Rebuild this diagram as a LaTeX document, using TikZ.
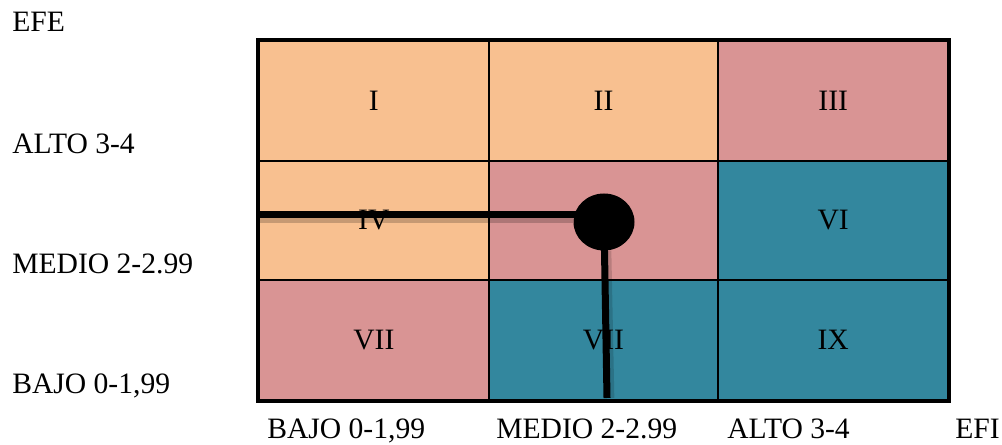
\documentclass[tikz,border=0pt]{standalone}
\usepackage{fontspec}
\setmainfont{Liberation Serif}
\usepackage{tikz}
\usetikzlibrary{shapes,positioning,calc}
\usepackage{xcolor}

\definecolor{durazno}{RGB}{248,192,144}
\definecolor{rosa}{RGB}{217,148,148}
\definecolor{azul}{RGB}{51,135,158}

\begin{document}
\begin{tikzpicture}[x=0.75pt,y=-0.75pt,font=\fontsize{22.2}{26}\selectfont]

\useasboundingbox (0,0) rectangle (1002,445);

% draw the nine cells of the matrix
\foreach \n/\cx/\cy/\col/\txt in {1/0/0/durazno/I,2/1/0/durazno/II,3/2/0/rosa/III,
  4/0/1/durazno/IV,5/1/1/rosa/,6/2/1/azul/VI,
  7/0/2/rosa/VII,8/1/2/azul/VII,9/2/2/azul/IX}
{
  \node[rectangle,draw=black,line width=1.5pt,fill=\col,inner sep=0pt,
    minimum width=172.25pt,minimum height=89.75pt]
    (c\n) at (259+229.67*\cx+114.83,41+119.67*\cy+59.83) {\txt};
}

% outer frame
\draw[line width=3pt] (c1.north west) rectangle (c9.south east);

% axis labels on the left
\node[anchor=base west,inner sep=0pt] (efe) at (12,32) {EFE};
\node[anchor=base west,inner sep=0pt] (yalto) at (12,154) {ALTO 3-4};
\node[anchor=base west,inner sep=0pt] (ymedio) at (12,273) {MEDIO 2-2.99};
\node[anchor=base west,inner sep=0pt] (ybajo) at (12,393) {BAJO 0-1,99};

% axis labels at the bottom
\node[anchor=base west,inner sep=0pt] (xbajo) at (267,438) {BAJO 0-1,99};
\node[anchor=base west,inner sep=0pt] (xmedio) at (496,438) {MEDIO 2-2.99};
\node[anchor=base west,inner sep=0pt] (xalto) at (727,438) {ALTO 3-4};
\node[anchor=base west,inner sep=0pt] (efi) at (955,438) {EFI};

% position of the company
\node[ellipse,fill=black,inner sep=0pt,minimum width=45.75pt,minimum height=42.75pt]
  (punto) at (604,222) {};
\coordinate (hini) at (259,215);
\coordinate (vfin) at (607,398);

% shadows of the lines
\draw[line width=5pt,black,opacity=0.2] ($(hini)+(0,5)$) -- ($(hini -| punto.west)+(0,5)$);
\draw[line width=5pt,black,opacity=0.15] ($(punto.south)+(4,0)$) -- ($(vfin)+(4,0)$);

% lines to the axes
\draw[line width=5.25pt] (hini) -- (hini -| punto.center);
\draw[line width=5.25pt] (punto.center) -- (vfin);

\end{tikzpicture}
\end{document}
